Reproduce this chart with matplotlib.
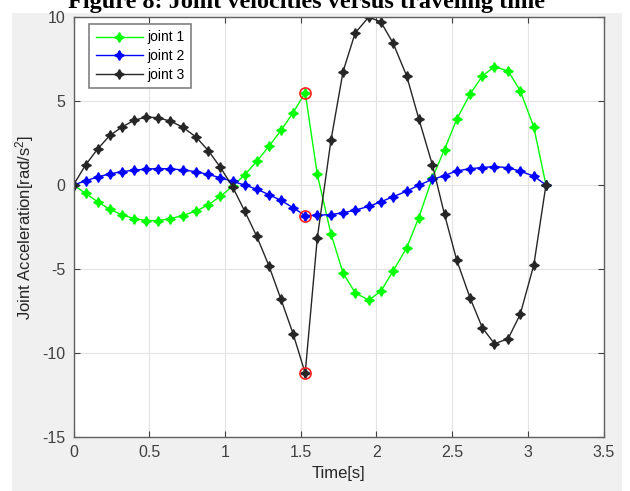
import matplotlib
matplotlib.use("Agg")
import matplotlib.pyplot as plt
from matplotlib.patches import Rectangle

plt.rcParams['font.family'] = ['Liberation Sans', 'DejaVu Sans']
plt.rcParams['mathtext.default'] = 'regular'
plt.rcParams['axes.unicode_minus'] = False

# -------------------------------------------------------------------------------------------------
# Joint accelerations, first segment (0 -> via point) and second segment (via point -> end)
# -------------------------------------------------------------------------------------------------
t_seg1 = [0.00, 0.08, 0.16, 0.24, 0.32, 0.40, 0.48, 0.56, 0.64, 0.72,
          0.81, 0.89, 0.97, 1.05, 1.13, 1.21, 1.29, 1.37, 1.45, 1.53]
t_seg2 = [1.61, 1.70, 1.78, 1.86, 1.95, 2.03, 2.11, 2.20, 2.28, 2.37,
          2.45, 2.53, 2.62, 2.70, 2.78, 2.87, 2.95, 3.04, 3.12]

joint1_seg1 = [0, -0.5, -1.0, -1.45, -1.78, -2.0, -2.12, -2.12, -2.0, -1.82,
               -1.55, -1.18, -0.68, -0.08, 0.6, 1.4, 2.3, 3.25, 4.3, 5.5]
joint1_seg2 = [0.63, -2.9, -5.23, -6.42, -6.85, -6.32, -5.13, -3.74, -1.95, 0.43,
               2.11, 3.9, 5.43, 6.48, 7.05, 6.78, 5.62, 3.44, 0]

joint2_seg1 = [0, 0.25, 0.48, 0.66, 0.8, 0.88, 0.95, 0.98, 0.96, 0.9,
               0.79, 0.63, 0.43, 0.22, 0.0, -0.25, -0.57, -0.92, -1.35, -1.82]
joint2_seg2 = [-1.8, -1.76, -1.65, -1.5, -1.27, -1.0, -0.7, -0.37, -0.01, 0.33,
               0.56, 0.84, 0.97, 1.04, 1.1, 1.03, 0.82, 0.53, 0]

joint3_seg1 = [0, 1.2, 2.15, 2.95, 3.45, 3.85, 4.05, 4.0, 3.8, 3.45,
               2.85, 2.05, 1.05, -0.1, -1.55, -3.05, -4.8, -6.8, -8.85, -11.2]
joint3_seg2 = [-3.15, 2.65, 6.75, 9.05, 10.0, 9.7, 8.45, 6.5, 3.95, 1.2,
               -1.75, -4.45, -6.75, -8.5, -9.45, -9.15, -7.7, -4.75, 0]

x_ticks = [0, 0.5, 1, 1.5, 2, 2.5, 3, 3.5]
x_ticklabels = ['0', '0.5', '1', '1.5', '2', '2.5', '3', '3.5']
y_ticks = [-15, -10, -5, 0, 5, 10]

time = t_seg1 + t_seg2
joint1 = joint1_seg1 + joint1_seg2
joint2 = joint2_seg1 + joint2_seg2
joint3 = joint3_seg1 + joint3_seg2

# -------------------------------------------------------------------------------------------------
# Plot
# -------------------------------------------------------------------------------------------------
fig = plt.figure(figsize=(6.3, 4.91), dpi=100)
# grey figure panel behind the axes
fig.patches.append(Rectangle((12 / 630, 0), 610 / 630, 478 / 491, transform=fig.transFigure,
                             facecolor='#f0f0f0', edgecolor='none', zorder=-10))

fig.text(306 / 630, 1 - 8 / 491, 'Figure 8: Joint velocities versus traveling time',
         ha='center', va='baseline', fontsize=17.5, fontweight='bold',
         family=['Liberation Serif', 'DejaVu Serif'])

ax = fig.add_axes([73.5 / 630, 54 / 491, 530 / 630, 420 / 491])
ax.set_zorder(1)
star = (4, 1, 0)
ax.plot(time, joint1, '-', color='#00ff00', lw=1, marker=star, ms=7, label='joint 1')
ax.plot(time, joint2, '-', color='#0000ff', lw=1, marker=star, ms=7, label='joint 2')
ax.plot(time, joint3, '-', color='#262626', lw=1, marker=star, ms=7, label='joint 3')

# via point
t_via = t_seg1[-1]
ax.plot([t_via] * 3, [joint1_seg1[-1], joint2_seg1[-1], joint3_seg1[-1]], 'o',
        mfc='none', mec='#ff2020', ms=8, mew=1.2)

ax.set_xlim(0, 3.5)
ax.set_ylim(-15, 10)
ax.set_xticks(x_ticks)
ax.set_xticklabels(x_ticklabels)
ax.set_yticks(y_ticks)
ax.grid(True, color='#e3e3e3', lw=0.8)
ax.set_axisbelow(True)
ax.tick_params(direction='in', length=4, width=0.8, top=True, right=True,
               labelsize=11.5, colors='#404040', pad=6)
for s in ax.spines.values():
    s.set_color('#606060')
    s.set_linewidth(1.0)

ax.set_xlabel('Time[s]', fontsize=12, color='#262626', labelpad=4)
ax.set_ylabel('Joint Acceleration[rad/s$^2$]', fontsize=12, color='#262626', labelpad=4)

leg = ax.legend(loc='upper left', bbox_to_anchor=(0.03, 0.983), borderaxespad=0,
                fontsize=10, handlelength=3.4, handletextpad=0.3, labelspacing=0.35,
                borderpad=0.45, fancybox=False, edgecolor='#808080', framealpha=1)
leg.get_frame().set_linewidth(1.2)

fig.savefig('out.png', dpi=100, facecolor='white')
